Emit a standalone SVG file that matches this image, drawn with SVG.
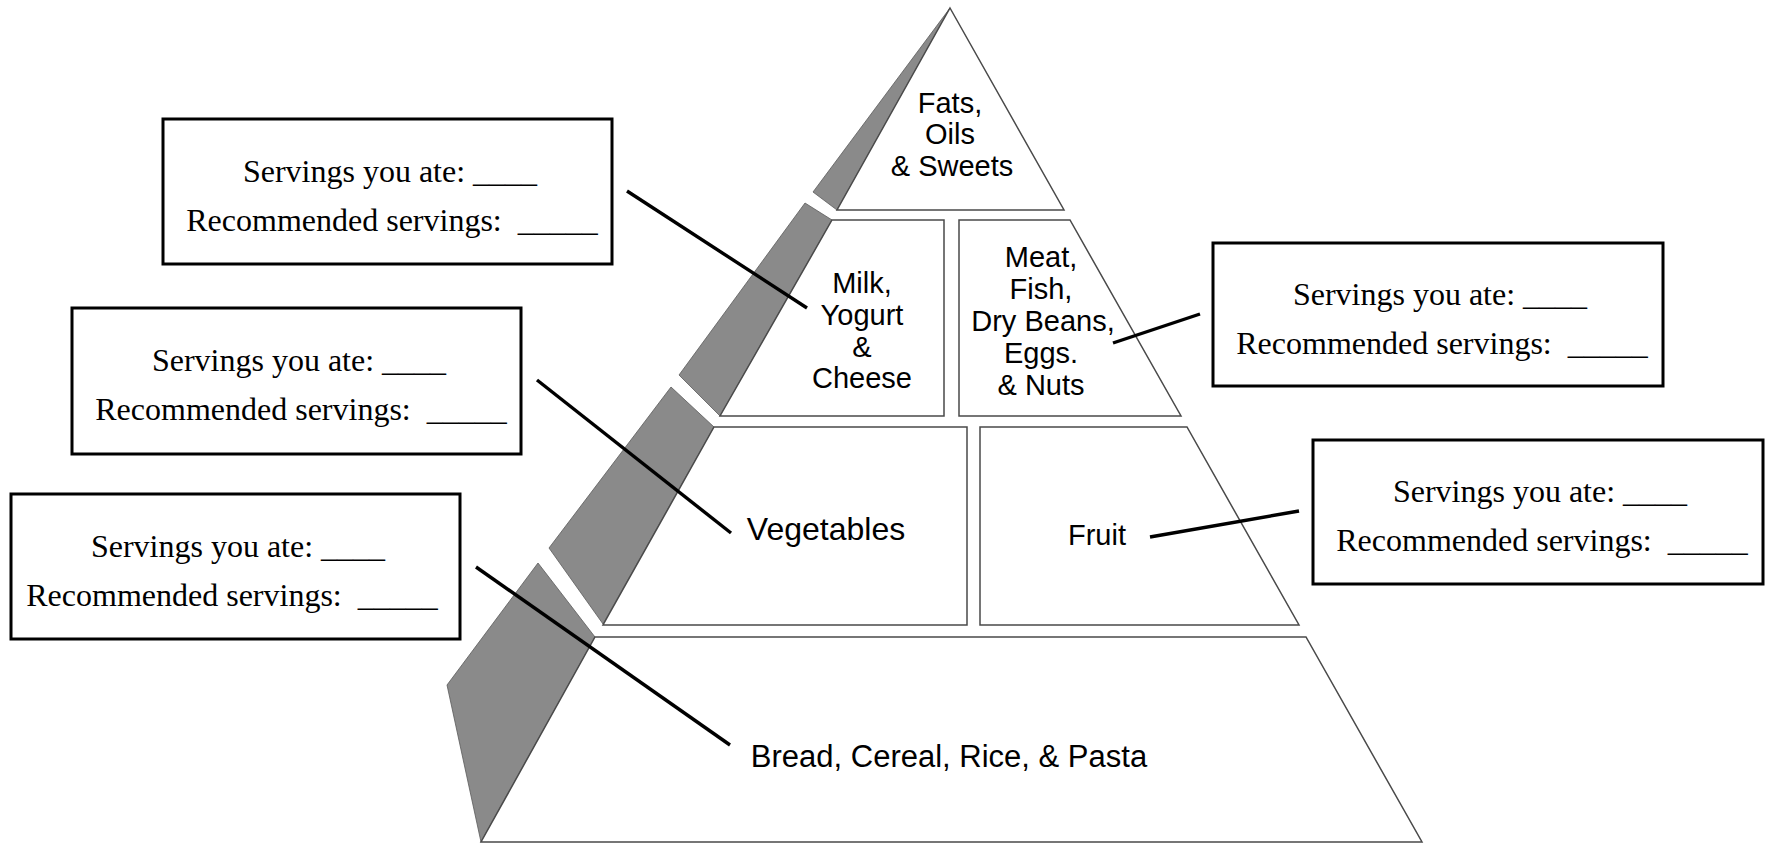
<svg xmlns="http://www.w3.org/2000/svg" width="1765" height="845" viewBox="0 0 1765 845">
<style>
.bg{fill:#ffffff}
.shade{fill:#8a8a8a;stroke:#5a5a5a;stroke-width:0.8}
.tier{fill:#ffffff;stroke:#4a4a4a;stroke-width:1.5}
.lbl{font-family:"Liberation Sans",Arial,sans-serif;font-size:29px;fill:#000;text-anchor:middle}
.box{fill:#ffffff;stroke:#000;stroke-width:3}
.btxt{font-family:"Liberation Serif","Times New Roman",serif;font-size:32px;fill:#000;text-anchor:middle;white-space:pre}
.conn{stroke:#000;stroke-width:3.4;stroke-linecap:butt;fill:none}
</style>
<rect class="bg" x="0" y="0" width="1765" height="845"/>
<g id="shading">
<polygon class="shade" points="950,8 813,192 837,210"/>
<polygon class="shade" points="805,203 679,375 720,416 832,220"/>
<polygon class="shade" points="671,387 549,548 603,624 714,427"/>
<polygon class="shade" points="538,563 447,685 481,842 595,637"/>
</g>
<g id="tier-fats">
<polygon class="tier" points="950,8 1064,210 837,210"/>
<text class="lbl" x="950" y="113">Fats,</text>
<text class="lbl" x="950" y="144">Oils</text>
<text class="lbl" x="952" y="176">&amp; Sweets</text>
</g>
<g id="tier-milk">
<polygon class="tier" points="832,220 944,220 944,416 720,416"/>
<text class="lbl" x="862" y="293">Milk,</text>
<text class="lbl" x="862" y="325">Yogurt</text>
<text class="lbl" x="862" y="357">&amp;</text>
<text class="lbl" x="862" y="388">Cheese</text>
</g>
<g id="tier-meat">
<polygon class="tier" points="959,220 1070,220 1181,416 959,416"/>
<text class="lbl" x="1041" y="267">Meat,</text>
<text class="lbl" x="1041" y="299">Fish,</text>
<text class="lbl" x="1043" y="331">Dry Beans,</text>
<text class="lbl" x="1041" y="363">Eggs.</text>
<text class="lbl" x="1041" y="395">&amp; Nuts</text>
</g>
<g id="tier-vegetables">
<polygon class="tier" points="714,427 967,427 967,625 603,625"/>
<text class="lbl" x="826" y="540" style="font-size:32px">Vegetables</text>
</g>
<g id="tier-fruit">
<polygon class="tier" points="980,427 1187,427 1299,625 980,625"/>
<text class="lbl" x="1097" y="545">Fruit</text>
</g>
<g id="tier-bread">
<polygon class="tier" points="595,637 1306,637 1422,842 481,842"/>
<text class="lbl" x="949" y="767" style="font-size:31px">Bread, Cereal, Rice, &amp; Pasta</text>
</g>
<g id="box-milk">
<rect class="box" x="163" y="119" width="449" height="145"/>
<text class="btxt" x="390" y="182">Servings you ate: ____</text>
<text class="btxt" x="392" y="231">Recommended servings:  _____</text>
</g>
<g id="box-vegetables">
<rect class="box" x="72" y="308" width="449" height="146"/>
<text class="btxt" x="299" y="371">Servings you ate: ____</text>
<text class="btxt" x="301" y="420">Recommended servings:  _____</text>
</g>
<g id="box-bread">
<rect class="box" x="11" y="494" width="449" height="145"/>
<text class="btxt" x="238" y="557">Servings you ate: ____</text>
<text class="btxt" x="232" y="606">Recommended servings:  _____</text>
</g>
<g id="box-meat">
<rect class="box" x="1213" y="243" width="450" height="143"/>
<text class="btxt" x="1440" y="305">Servings you ate: ____</text>
<text class="btxt" x="1442" y="354">Recommended servings:  _____</text>
</g>
<g id="box-fruit">
<rect class="box" x="1313" y="440" width="450" height="144"/>
<text class="btxt" x="1540" y="502">Servings you ate: ____</text>
<text class="btxt" x="1542" y="551">Recommended servings:  _____</text>
</g>
<g id="connectors">
<line class="conn" x1="627" y1="191" x2="807" y2="308"/>
<line class="conn" x1="537" y1="380" x2="731" y2="533"/>
<line class="conn" x1="476" y1="567" x2="730" y2="745"/>
<line class="conn" x1="1200" y1="314" x2="1113" y2="343"/>
<line class="conn" x1="1299" y1="511" x2="1150" y2="537"/>
</g>
</svg>
